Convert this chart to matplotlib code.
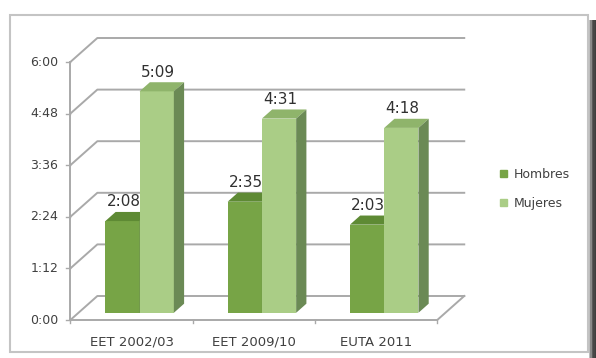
import matplotlib.pyplot as plt
from matplotlib.patches import Rectangle, Patch

categories = ["EET 2002/03", "EET 2009/10", "EUTA 2011"]
hombres = [2 + 8 / 60, 2 + 35 / 60, 2 + 3 / 60]
mujeres = [5 + 9 / 60, 4 + 31 / 60, 4 + 18 / 60]
hombres_labels = ["2:08", "2:35", "2:03"]
mujeres_labels = ["5:09", "4:31", "4:18"]
yticks = [0, 1.2, 2.4, 3.6, 4.8, 6.0]
ytick_labels = ["0:00", "1:12", "2:24", "3:36", "4:48", "6:00"]

W, H = 596, 358
# pixel layout of the pseudo-3d box
X0_PX, UNIT_PX = 131.5, 122.3     # category 0 centre, px per category
Y0_PX, HOUR_PX = 320, 43          # floor front, px per hour
DX, DY = 27 / UNIT_PX, 24 / HOUR_PX  # depth offset in data units
F0, F1 = 0.30, 0.68               # bar front/back depth fraction
BW = 0.28                         # bar width

grid_c = "#a9a9a9"
c_h, c_h_top = "#77a446", "#5e8a34"
c_m, c_m_top, c_side = "#aacd86", "#8fb46b", "#6b8a55"

fig = plt.figure(figsize=(W / 100, H / 100), dpi=100)
ax = fig.add_axes([0, 0, 1, 1])
ax.set_xlim(-X0_PX / UNIT_PX, (W - X0_PX) / UNIT_PX)
ax.set_ylim((Y0_PX - H) / HOUR_PX, Y0_PX / HOUR_PX)
ax.axis("off")

n = len(categories)
left, right = -0.5, n - 0.5
ymax = yticks[-1]

# walls and grid
for t, lab in zip(yticks, ytick_labels):
    ax.plot([left, left + DX, right + DX], [t, t + DY, t + DY], color=grid_c, lw=1.4, zorder=1)
    ax.plot([left - 0.035, left], [t, t], color=grid_c, lw=1.0, zorder=1)
    ax.text(left - 0.1, t, lab, ha="right", va="center", fontsize=9, color="#404040")
ax.plot([left, left], [0, ymax], color=grid_c, lw=1.4, zorder=1)
ax.plot([left, right, right + DX], [0, 0, DY], color=grid_c, lw=1.4, zorder=1)
for i in range(n + 1):
    ax.plot([i - 0.5, i - 0.5], [0, -0.07], color=grid_c, lw=1.0, zorder=1)
for i, c in enumerate(categories):
    ax.text(i, -0.52, c, ha="center", va="center", fontsize=9.5, color="#404040")


def bar3d(x0, h, face, top):
    fx, fy = F0 * DX, F0 * DY
    d = F1 - F0
    ax.bar(x0 + fx, h, bottom=fy, width=BW, align="edge", color=face,
           edgecolor="none", zorder=3)
    ytop = h + fy
    ax.fill([x0 + fx, x0 + fx + BW, x0 + fx + BW + d * DX, x0 + fx + d * DX],
            [ytop, ytop, ytop + d * DY, ytop + d * DY], color=top, zorder=3, lw=0)
    xr = x0 + fx + BW
    ax.fill([xr, xr + d * DX, xr + d * DX, xr],
            [fy, fy + d * DY, ytop + d * DY, ytop], color=c_side, zorder=3, lw=0)
    return x0 + fx + BW / 2, ytop + d * DY


for i in range(n):
    cx, ty = bar3d(i - BW, hombres[i], c_h, c_h_top)
    ax.text(cx + 0.01, ty + 0.06, hombres_labels[i], ha="center", va="bottom",
            fontsize=11, color="#303030", zorder=4)
    cx, ty = bar3d(i, mujeres[i], c_m, c_m_top)
    ax.text(cx + 0.01, ty + 0.06, mujeres_labels[i], ha="center", va="bottom",
            fontsize=11, color="#303030", zorder=4)

# legend
handles = [Patch(color=c_h, label="Hombres"), Patch(color=c_m, label="Mujeres")]
fig.legend(handles=handles, loc="center left", bbox_to_anchor=(494 / W, 1 - 189 / H),
           frameon=False, fontsize=9, handlelength=0.55, handleheight=0.55,
           handletextpad=0.55, labelspacing=1.3, borderpad=0, labelcolor="#404040")

# outer frame and shadow
fig.patches.append(Rectangle((10 / W, 1 - 352 / H), 578 / W, 337 / H, transform=fig.transFigure,
                             fill=False, edgecolor="#c4c4c4", lw=1.5))
for k, col in enumerate(["#bdbdbd", "#8a8a8a", "#5a5a5a", "#474747", "#3f3f3f"]):
    fig.patches.append(Rectangle(((589 + k * 1.4) / W, 0), 1.6 / W, 1 - 20 / H,
                                 transform=fig.transFigure, color=col, lw=0))

fig.savefig("out.png", dpi=100)
